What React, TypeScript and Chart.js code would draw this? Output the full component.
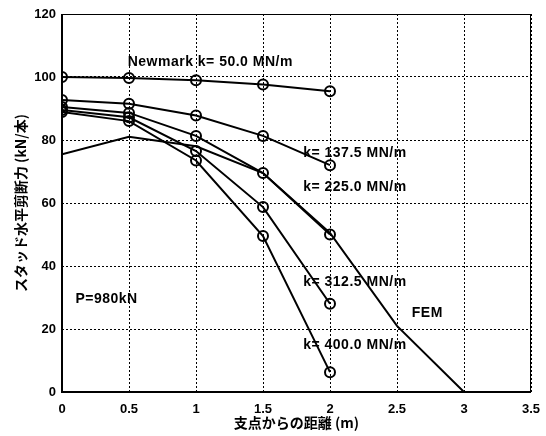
import React, { useEffect, useRef } from "react";
import { Chart, registerables } from "chart.js";
Chart.register(...registerables);

const positions = [0, 0.5, 1, 1.5, 2];
const newmark50 = [100, 99.7, 99, 97.6, 95.5];
const k137 = [92.7, 91.5, 87.8, 81.3, 72];
const k225 = [90.5, 88.6, 81.3, 69.5, 50];
const k312 = [89.5, 87.2, 76.5, 58.7, 28];
const k400 = [88.9, 86, 73.5, 49.5, 6.3];
const femX = [0, 0.5, 1, 1.5, 2, 2.5, 3];
const femY = [75.5, 81, 78, 69.5, 50.5, 21, 0];

const seriesLabels = ["k= 50.0 MN/m", "k= 137.5 MN/m", "k= 225.0 MN/m", "k= 312.5 MN/m", "k= 400.0 MN/m", "FEM"];
const xTitle = "支点からの距離 (m)";
const yTitle = "スタッド水平剪断力 (kN/本)";

const textNotes = [
  { text: "Newmark k= 50.0 MN/m", x: 0.49, y: 104.8 },
  { text: "k= 137.5 MN/m", x: 1.8, y: 75.9 },
  { text: "k= 225.0 MN/m", x: 1.8, y: 65 },
  { text: "k= 312.5 MN/m", x: 1.8, y: 34.9 },
  { text: "FEM", x: 2.61, y: 25 },
  { text: "k= 400.0 MN/m", x: 1.8, y: 14.9 },
  { text: "P=980kN", x: 0.1, y: 29.5 },
];

const FONT = "'Liberation Sans', Arial, sans-serif";
const CJK = "'Noto Sans CJK JP', sans-serif";

const notesPlugin = {
  id: "notes",
  afterDatasetsDraw(chart: any) {
    const { ctx, scales, chartArea: a } = chart;
    ctx.save();
    ctx.font = `bold 14px ${FONT}`;
    (ctx as any).letterSpacing = "0.5px";
    ctx.fillStyle = "#000";
    ctx.textAlign = "left";
    ctx.textBaseline = "middle";
    for (const n of textNotes) {
      ctx.fillText(n.text, scales.x.getPixelForValue(n.x), scales.y.getPixelForValue(n.y));
    }
    (ctx as any).letterSpacing = "0px";
    ctx.font = `bold 14px ${CJK}`;
    ctx.textAlign = "center";
    ctx.fillText(xTitle, (a.left + a.right) / 2, 423);
    ctx.translate(21, (a.top + a.bottom) / 2);
    ctx.rotate(-Math.PI / 2);
    ctx.fillText(yTitle, 0, 0);
    ctx.restore();
  },
  afterDraw(chart: any) {
    const { ctx, chartArea: a } = chart;
    ctx.save();
    ctx.strokeStyle = "#000";
    ctx.lineWidth = 1;
    ctx.strokeRect(a.left + 0.5, a.top + 0.5, a.right - a.left - 1, a.bottom - a.top - 1);
    ctx.lineWidth = 2;
    ctx.beginPath();
    ctx.moveTo(a.left, a.top);
    ctx.lineTo(a.left, a.bottom);
    ctx.lineTo(a.right, a.bottom);
    ctx.stroke();
    ctx.restore();
  },
};

export default function App() {
  const ref = useRef<HTMLCanvasElement>(null);
  useEffect(() => {
    const mk = (ys: number[], i: number) => ({
      label: seriesLabels[i],
      data: positions.map((x, j) => ({ x, y: ys[j] })),
      borderColor: "#000",
      backgroundColor: "rgba(0,0,0,0)",
      borderWidth: 2,
      pointRadius: 5,
      pointBorderWidth: 2,
      pointStyle: "circle",
      pointBorderColor: "#000",
      pointBackgroundColor: "rgba(0,0,0,0)",
    });
    const chart = new Chart(ref.current!, {
      type: "line",
      data: {
        datasets: [
          mk(newmark50, 0),
          mk(k137, 1),
          mk(k225, 2),
          mk(k312, 3),
          mk(k400, 4),
          {
            label: seriesLabels[5],
            data: femX.map((x, j) => ({ x, y: femY[j] })),
            borderColor: "#000",
            borderWidth: 2,
            pointRadius: 0,
          },
        ],
      },
      options: {
        animation: false,
        responsive: false,
        layout: { padding: { top: 14, right: 15, left: 0, bottom: 0 } },
        plugins: { legend: { display: false }, tooltip: { enabled: false } },
        scales: {
          x: {
            type: "linear",
            min: 0,
            max: 3.5,
            ticks: {
              stepSize: 0.5,
              color: "#000",
              font: { family: FONT, size: 13, weight: "bold" },
              padding: 10,
              callback: (v: any) => String(v),
            },
            grid: { color: "#000", lineWidth: 1, drawTicks: false },
            border: { display: false, dash: [2, 2] },
            afterFit: (s: any) => { s.height = 44; s.paddingLeft = 0; s.paddingRight = 0; },
          },
          y: {
            min: 0,
            max: 120,
            ticks: { stepSize: 20, color: "#000", font: { family: FONT, size: 13, weight: "bold" }, padding: 6 },
            grid: { color: "#000", lineWidth: 1, drawTicks: false },
            border: { display: false, dash: [2, 2] },
            afterFit: (s: any) => { s.width = 62; s.paddingTop = 0; s.paddingBottom = 0; },
          },
        },
      },
      plugins: [notesPlugin],
    } as any);
    return () => chart.destroy();
  }, []);
  return (
    <div style={{ position: "fixed", left: 0, top: 0, width: 546, height: 436, background: "#fff" }}>
      <canvas ref={ref} width={546} height={436} style={{ width: 546, height: 436 }} />
    </div>
  );
}
